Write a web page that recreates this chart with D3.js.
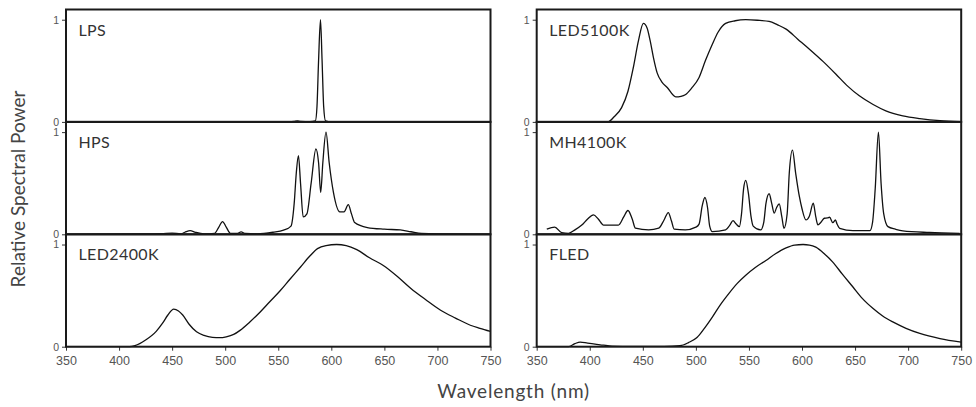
<!DOCTYPE html>
<html lang="en">
  <head>
    <meta charset="utf-8">
    <title>Relative spectral power</title>
    <script src="https://d3js.org/d3.v7.min.js"></script>
    <style type="text/css">
        body {
          margin: 0;
          background: #fff;
        }
        .chart svg {
          font-family: 'Lato', 'Open Sans', sans-serif;
        }
        .tick text {
          fill: #555;
        }
        .spd {
          fill: none;
          stroke: #111;
          stroke-width: 1.3px;
        }
        .frame {
          fill: none;
          stroke: #1a1a1a;
          stroke-width: 2px;
        }
        .lamp {
          fill: #333;
          font-size: 16px;
          letter-spacing: 0.4px;
        }
        .axis-title {
          fill: #444;
          font-size: 19px;
        }
    </style>
  </head>
  <body>
    <div class="chart" id="chart"></div>

    <script>
        // wavelength (nm), relative power
        var LPS = [[350,0],[560,0],[565,0.004],[568,0.01],[571,0.004],[580,0.002],[585,0.01],[586.5,0.15],
                   [588,0.6],[589.8,1.0],[591.3,0.6],[592.8,0.15],[594.5,0.01],[600,0],[750,0]];

        var HPS = [[350,0],[420,0.003],[440,0.006],[450,0.012],[458,0.004],[462,0.02],[467,0.036],[472,0.02],
                   [480,0.005],[490,0.01],[494,0.07],[497.5,0.125],[501,0.07],[505,0.01],[511,0.008],[515,0.023],
                   [519,0.008],[530,0.005],[545,0.02],[555,0.04],[562,0.08],[565,0.3],[567,0.6],[569,0.77],
                   [571,0.5],[573.5,0.17],[577,0.2],[581,0.5],[585.5,0.835],[588,0.7],[590,0.41],[592,0.7],
                   [595,1.0],[598,0.7],[602,0.41],[608,0.22],[612,0.22],[616,0.29],[619,0.2],[622,0.115],
                   [634,0.066],[650,0.05],[665,0.043],[675,0.025],[685,0.008],[700,0.003],[750,0]];

        var LED2400K = [[350,0],[410,0],[415,0.01],[425,0.065],[435,0.15],[441,0.23],[446,0.31],[451.5,0.367],
                        [456,0.35],[460,0.31],[466,0.22],[473,0.146],[480,0.11],[488,0.091],[495,0.088],
                        [501,0.097],[508,0.12],[514,0.16],[523,0.24],[533,0.34],[542,0.44],[552,0.55],[561,0.66],
                        [571,0.78],[580,0.89],[587,0.96],[595,0.99],[605,1.0],[614,0.99],[624,0.95],[636,0.87],
                        [649,0.795],[662,0.69],[675,0.57],[689,0.46],[703,0.357],[717,0.28],[731,0.21],
                        [740,0.18],[750,0.15]];

        var LED5100K = [[350,0],[417,0],[423,0.05],[430,0.14],[436,0.3],[441,0.53],[446,0.8],[450.5,0.964],
                        [454,0.92],[457,0.79],[460,0.63],[463.5,0.48],[468,0.39],[473,0.337],[481,0.245],
                        [486,0.25],[490,0.265],[496,0.33],[503,0.435],[509,0.6],[515.5,0.76],[521,0.88],
                        [528,0.964],[537,0.99],[547,1.0],[558,0.995],[569,0.984],[577,0.95],[585,0.908],
                        [596,0.81],[607,0.712],[620,0.59],[632,0.467],[643,0.35],[654,0.255],[667,0.17],
                        [679,0.108],[695,0.06],[711,0.033],[730,0.012],[750,0.003]];

        var MH4100K = [[359.5,0.05],[367,0.07],[373.5,0.016],[380,0.01],[386,0.043],[392.5,0.09],[398,0.15],
                       [403.5,0.19],[408,0.15],[413,0.09],[427,0.09],[432,0.17],[436,0.233],[440,0.15],[443,0.06],
                       [455.5,0.043],[465,0.06],[470,0.14],[474,0.213],[477,0.13],[479.5,0.05],[490,0.043],
                       [500,0.07],[503,0.1],[506,0.28],[508.5,0.36],[511,0.26],[513,0.08],[515.5,0.026],
                       [528,0.043],[532,0.09],[535,0.134],[538,0.1],[541,0.075],[543,0.2],[545,0.45],[547,0.528],
                       [549.5,0.4],[552,0.17],[554,0.08],[561,0.043],[564,0.12],[566,0.3],[569,0.397],[571.5,0.3],
                       [573.8,0.207],[576,0.26],[578.5,0.298],[581,0.17],[583,0.059],[586,0.2],[588,0.6],
                       [591,0.823],[594,0.6],[597.5,0.37],[600,0.25],[603.7,0.141],[607,0.18],[610.6,0.305],
                       [613,0.17],[615,0.092],[618,0.12],[621,0.157],[624,0.16],[626,0.167],[629,0.115],
                       [631.5,0.14],[633,0.1],[635.5,0.059],[648,0.036],[664,0.036],[666.5,0.12],[669,0.45],
                       [672,1.0],[674.5,0.5],[677,0.2],[681,0.075],[688,0.05],[695,0.033],[720,0.018],[748.5,0.01]];

        var FLED = [[350,0],[380,0],[386,0.03],[391,0.045],[398,0.035],[405,0.026],[413,0.015],[421,0.006],
                    [440,0.003],[470,0.004],[485,0.01],[493,0.04],[501,0.09],[508,0.18],[515.5,0.29],[523,0.41],
                    [531,0.52],[539,0.62],[547,0.7],[556,0.775],[566,0.844],[575,0.91],[585,0.968],[593,0.995],
                    [601,1.0],[607,0.995],[613,0.974],[621,0.91],[629,0.828],[638,0.71],[648,0.584],[657,0.47],
                    [667,0.373],[676,0.3],[686,0.24],[698,0.18],[711,0.13],[730,0.08],[750,0.045]];

        var lampNames = ["LPS", "HPS", "LED2400K", "LED5100K", "MH4100K", "FLED"];
        var lampData = [LPS, HPS, LED2400K, LED5100K, MH4100K, FLED];
        var xTicks = [350, 400, 450, 500, 550, 600, 650, 700, 750];
        var yTicks = [0, 1];

        var width = 976, height = 407;
        var colLeft = [66, 536.7], colWidth = 424.5;
        var rowTop = 9.5, rowHeight = 112.4;

        var svg = d3.select("#chart")
                    .append("svg")
                    .attr("width", width)
                    .attr("height", height);

        var line = d3.line().curve(d3.curveMonotoneX);

        lampData.forEach(function(data, i) {
            var col = Math.floor(i / 3), row = i % 3;
            var x0 = colLeft[col], y0 = rowTop + row * rowHeight;

            var x = d3.scaleLinear().domain([350, 750]).range([x0, x0 + colWidth]);
            var y = d3.scaleLinear().domain([0, 1.1]).range([y0 + rowHeight, y0]);

            var g = svg.append("g");

            g.append("g")
                .attr("class", "axis")
                .attr("transform", "translate(" + x0 + ",0)")
                .call(d3.axisLeft(y).tickValues(yTicks).tickFormat(d3.format("d")).tickSize(4).tickSizeOuter(0))
                .call(function(a) {
                    a.select(".domain").remove();
                    a.selectAll("line").attr("stroke", "#333");
                    a.selectAll("text").style("font-size", "10.5px").attr("x", -7);
                });

            if (row == 2) {
                g.append("g")
                    .attr("class", "axis")
                    .attr("transform", "translate(0," + (y0 + rowHeight) + ")")
                    .call(d3.axisBottom(x).tickValues(xTicks).tickSize(4).tickSizeOuter(0))
                    .call(function(a) {
                        a.select(".domain").remove();
                        a.selectAll("line").attr("stroke", "#333");
                        a.selectAll("text").style("font-size", "12.5px").attr("y", 9);
                    });
            }

            line.x(function(d) { return x(d[0]); })
                .y(function(d) { return y(d[1]); });

            g.append("path")
                .datum(data)
                .attr("class", "spd")
                .attr("d", line);

            g.append("rect")
                .attr("class", "frame")
                .attr("x", x0)
                .attr("y", y0)
                .attr("width", colWidth)
                .attr("height", rowHeight);

            g.append("text")
                .attr("class", "lamp")
                .attr("x", x0 + 12.5)
                .attr("y", y0 + 26)
                .text(lampNames[i]);
        });

        svg.append("text")
            .attr("class", "axis-title")
            .attr("text-anchor", "middle")
            .style("letter-spacing", "0.8px")
            .attr("x", (colLeft[0] + colLeft[1] + colWidth) / 2)
            .attr("y", 398)
            .text("Wavelength (nm)");

        svg.append("text")
            .attr("class", "axis-title")
            .attr("text-anchor", "middle")
            .attr("transform", "translate(25,189) rotate(-90)")
            .text("Relative Spectral Power");
    </script>
  </body>
</html>
